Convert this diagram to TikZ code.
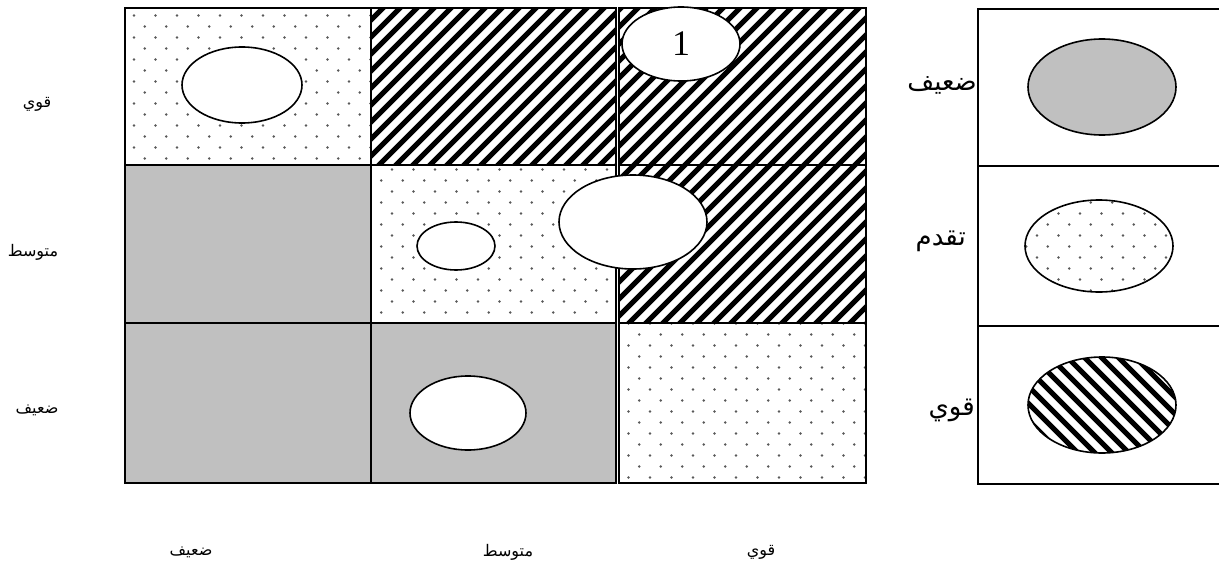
\documentclass[tikz,border=0pt]{standalone}
\usepackage{fontspec}
\setmainfont{Liberation Serif}
\newfontfamily\arabicfont[Script=Arabic]{DejaVu Sans}
\TeXXeTstate=1
\usetikzlibrary{shapes.geometric}

\definecolor{cellgray}{HTML}{C0C0C0}

% diagonal hatching rising to the right (x + y = const)
\newcommand\hatchup{%
  \foreach \c in {0,17,...,1870}{\draw[stripe] (\c,0) -- ++(-650,650);}}
% diagonal hatching falling to the right (x - y = const)
\newcommand\hatchdown{%
  \foreach \c in {-650,-633,...,1230}{\draw[stripe] (\c,0) -- ++(650,650);}}
% staggered dot raster, index ranges #1..#2 (columns) and #3..#4 (rows)
\newcommand\dotfield[4]{%
  \foreach \i in {#1,...,#2}{\foreach \j in {#3,...,#4}{%
    \fill[dotc] ({134+21.5*\i},{15.5+22*\j}) circle (1.3);
    \fill[dotc] ({144.75+21.5*\i},{26.5+22*\j}) circle (1.3);}}}

\begin{document}
\begin{tikzpicture}[x=1pt,y=-1pt,
  frame/.style={draw=black, line width=1.8pt, rectangle, inner sep=0pt, outer sep=0pt},
  keybox/.style={frame, line width=2pt},
  blob/.style={draw=black, line width=1.6pt, ellipse, inner sep=0pt, fill=white},
  stripe/.style={line width=5pt, black},
  dotc/.style={black!65},
  axislabel/.style={inner sep=0pt, font=\arabicfont\fontsize{16}{18}\selectfont},
  keylabel/.style={inner sep=0pt, anchor=east, font=\arabicfont\fontsize{26}{30}\selectfont}]

\useasboundingbox[fill=white] (0,0) rectangle (1219,570);

% ---- cell fills ----
\fill[cellgray] (125,165) rectangle (371,483);
\fill[cellgray] (371,323) rectangle (616,483);
\begin{scope}
  \clip (125,8) rectangle (371,165);
  \dotfield{0}{11}{0}{7}
\end{scope}
\begin{scope}
  \clip (371,165) rectangle (616,323);
  \dotfield{10}{23}{7}{14}
\end{scope}
\begin{scope}
  \clip (619,323) rectangle (866,483);
  \dotfield{21}{34}{14}{21}
\end{scope}
\begin{scope}
  \clip (371,8) rectangle (616,165);
  \hatchup
\end{scope}
\begin{scope}
  \clip (619,8) rectangle (866,323);
  \hatchup
\end{scope}

% ---- grid cells ----
\node[frame, minimum width=246pt, minimum height=157pt] (a1) at (248,86.5) {};
\node[frame, minimum width=245pt, minimum height=157pt] (b1) at (493.5,86.5) {};
\node[frame, minimum width=247pt, minimum height=157pt] (c1) at (742.5,86.5) {};
\node[frame, minimum width=246pt, minimum height=158pt] (a2) at (248,244) {};
\node[frame, minimum width=245pt, minimum height=158pt] (b2) at (493.5,244) {};
\node[frame, minimum width=247pt, minimum height=158pt] (c2) at (742.5,244) {};
\node[frame, minimum width=246pt, minimum height=160pt] (a3) at (248,403) {};
\node[frame, minimum width=245pt, minimum height=160pt] (b3) at (493.5,403) {};
\node[frame, minimum width=247pt, minimum height=160pt] (c3) at (742.5,403) {};

% ---- ellipses in the grid ----
\node[blob, minimum width=120pt, minimum height=76pt] (e1) at (242,85) {};
\node[blob, minimum width=118pt, minimum height=74pt,
      font=\fontsize{36}{38}\selectfont] (e2) at (681,44) {1};
\node[blob, minimum width=148pt, minimum height=94pt] (e3) at (633,222) {};
\node[blob, minimum width=78pt, minimum height=48pt] (e4) at (456,246) {};
\node[blob, minimum width=116pt, minimum height=74pt] (e5) at (468,413) {};

% ---- axis labels ----
\node[axislabel] (r1) at (37,104) {\beginR قوي\endR};
\node[axislabel] (r2) at (33,252) {\beginR متوسط\endR};
\node[axislabel] (r3) at (37,410) {\beginR ضعيف\endR};
\node[axislabel] (k1) at (191,552) {\beginR ضعيف\endR};
\node[axislabel] (k2) at (508,552) {\beginR متوسط\endR};
\node[axislabel] (k3) at (761,552) {\beginR قوي\endR};

% ---- key ----
\node[keybox, minimum width=247pt, minimum height=157pt] (l1) at (1101.5,87.5) {};
\node[keybox, minimum width=247pt, minimum height=160pt] (l2) at (1101.5,246) {};
\node[keybox, minimum width=247pt, minimum height=158pt] (l3) at (1101.5,405) {};

\node[blob, fill=cellgray, minimum width=148pt, minimum height=96pt] (g1) at (1102,87) {};
\begin{scope}
  \clip (1099,246) ellipse [x radius=74, y radius=46];
  \dotfield{40}{50}{8}{13}
\end{scope}
\node[blob, fill=none, minimum width=148pt, minimum height=92pt] (g2) at (1099,246) {};
\begin{scope}
  \clip (1102,405) ellipse [x radius=74, y radius=48];
  \hatchdown
\end{scope}
\node[blob, fill=none, minimum width=148pt, minimum height=96pt] (g3) at (1102,405) {};

\node[keylabel] (t1) at (977,85) {\beginR ضعيف\endR};
\node[keylabel] (t2) at (966,241) {\beginR تقدم\endR};
\node[keylabel] (t3) at (975,410) {\beginR قوي\endR};
\end{tikzpicture}
\end{document}
